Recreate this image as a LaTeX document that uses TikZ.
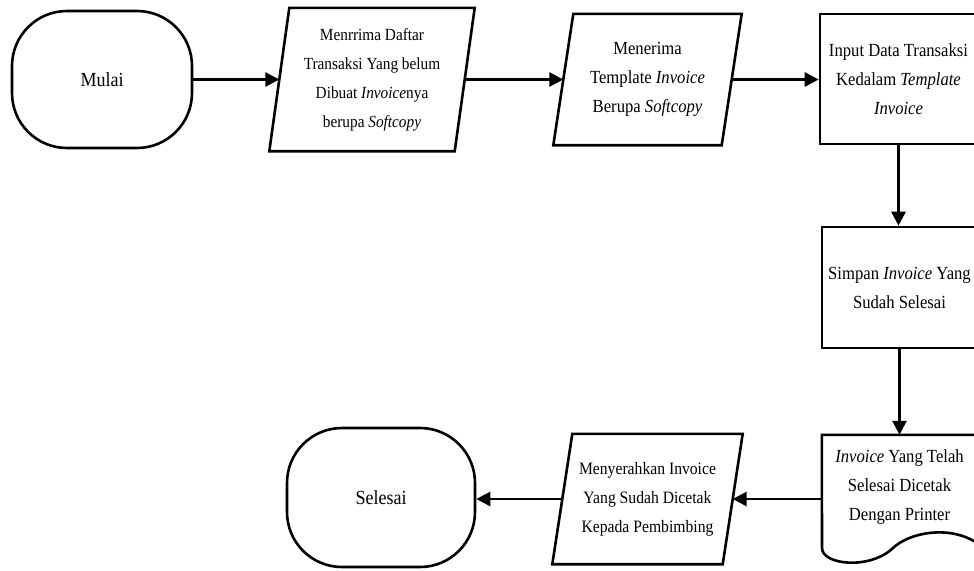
\documentclass[tikz,border=0pt]{standalone}
\usepackage{fontspec}
\setmainfont[FakeStretch=0.9]{Liberation Serif}
\usetikzlibrary{arrows.meta,calc}
\begin{document}
\begin{tikzpicture}[x=1pt,y=1pt,
  border/.style={line width=2.6pt, line join=miter},
  txt/.style={align=center, font=\fontsize{#1}{29}\selectfont, inner sep=0pt},
  txt/.default=18.5,
  terminal/.style={txt=20, draw, border, rounded corners=55pt},
  process/.style={txt, draw, border},
  io/.style={txt},
  flow/.style={line width=2.8pt, -{Triangle[length=14pt,width=14pt]}},
]
\useasboundingbox (0,0) rectangle (974,-570);

% terminators
\node[terminal, minimum width=180pt, minimum height=137pt] (start) at (102,-79.5) {Mulai};
\node[terminal, minimum width=188pt, minimum height=139pt] (end) at (381,-497.5) {Selesai};

% input / output steps (parallelograms drawn below)
\node[io, txt=17, minimum width=185pt, minimum height=143pt] (p1) at (372,-79.5)
  {Menrrima Daftar\\Transaksi Yang belum\\Dibuat \textit{Invoice}nya\\berupa \textit{Softcopy}};
\node[io, minimum width=168pt, minimum height=131pt] (p2) at (647.5,-79.5)
  {Menerima\\Template \textit{Invoice}\\Berupa \textit{Softcopy}};
\node[io, txt=17.4, minimum width=170pt, minimum height=130pt] (p3) at (647.5,-499)
  {Menyerahkan Invoice\\Yang Sudah Dicetak\\Kepada Pembimbing};

% processes
\node[process, minimum width=157pt, minimum height=130pt] (r3) at (898.5,-79)
  {Input Data Transaksi\\Kedalam \textit{Template}\\\textit{Invoice}};
\node[process, minimum width=155pt, minimum height=121pt] (r4) at (899.5,-287.5)
  {Simpan \textit{Invoice} Yang\\Sudah Selesai};

% document
\node[txt, minimum width=155pt, minimum height=104pt] (doc) at (899.5,-487)
  {\textit{Invoice} Yang Telah\\Selesai Dicetak\\Dengan Printer};

\foreach \n in {p1,p2,p3}
  \draw[border] ([xshift=10pt]\n.north west) -- ([xshift=10pt]\n.north east)
    -- ([xshift=-10pt]\n.south east) -- ([xshift=-10pt]\n.south west) -- cycle;

\draw[border] (822,-548) -- (doc.north west) -- (doc.north east) -- (977,-543)
  .. controls (950,-525) and (910,-532) .. (893,-548)
  .. controls (870,-570) and (822,-565) .. (822,-548) -- cycle;

% connectors
\draw[flow] (start.east) -- (start.east -| p1.west);
\draw[flow] (p1.east) -- (p2.west);
\draw[flow] (p2.east) -- (r3.west |- p2.east);
\draw[flow] (r3.south) -- (r3.south |- r4.north);
\draw[flow] (r4.south) -- (r4.south |- doc.north);
\draw[flow] (doc.west |- p3.east) -- (p3.east);
\draw[flow] (p3.west) -- (p3.west -| end.east);
\end{tikzpicture}
\end{document}
